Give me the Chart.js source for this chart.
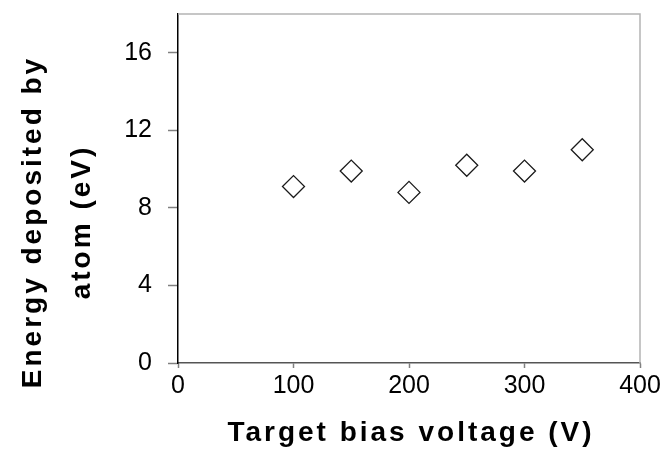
<!DOCTYPE html>
<html>
<head>
<meta charset="utf-8">
<script src="https://cdn.jsdelivr.net/npm/chart.js@4/dist/chart.umd.min.js"></script>
<style>
  body { margin: 0; background: #fff; }
</style>
</head>
<body>
<canvas id="myChart" width="668" height="475"></canvas>
<script>
const biasVoltage = [100, 150, 200, 250, 300, 350];
const energyPerAtom = [9.1, 9.9, 8.8, 10.2, 9.9, 11.0];
const xTicks = [0, 100, 200, 300, 400];
const yTicks = [0, 4, 8, 12, 16];
const xTitle = "Target bias voltage (V)";
const yTitle = ["Energy deposited by", "atom (eV)"];

const ctx = document.getElementById("myChart");
const font = "'Liberation Sans', Arial, sans-serif";

// titles are drawn by hand (letter spaced, y title sits a bit low), plus the grey top/right frame
const extras = {
  id: "extras",
  afterDraw(chart) {
    const c = chart.ctx;
    const a = chart.chartArea;
    c.save();
    c.strokeStyle = "#b4b4b4";
    c.lineWidth = 1.5;
    c.beginPath();
    c.moveTo(a.left, a.top);
    c.lineTo(a.right, a.top);
    c.lineTo(a.right, a.bottom);
    c.stroke();

    c.fillStyle = "#000";
    c.font = "bold 28px " + font;
    c.letterSpacing = "3px";
    c.textAlign = "center";
    c.textBaseline = "middle";
    c.fillText(xTitle, (a.left + a.right) / 2 + 2, 433);
    c.translate(33, 222);
    c.rotate(-Math.PI / 2);
    c.fillText(yTitle[0], 0, 0);
    c.fillText(yTitle[1], 0, 49);
    c.restore();
  },
};

new Chart(ctx, {
  type: "scatter",
  data: {
    datasets: [
      {
        data: biasVoltage.map((v, i) => ({ x: v, y: energyPerAtom[i] })),
        pointStyle: "rectRot",
        pointRadius: 11,
        pointHoverRadius: 11,
        borderColor: "#1a1a1a",
        borderWidth: 1.3,
        backgroundColor: "#fff",
      },
    ],
  },
  options: {
    responsive: false,
    animation: false,
    events: [],
    layout: { padding: { left: 100, right: 28, top: 14, bottom: 0 } },
    plugins: {
      legend: { display: false },
      tooltip: { enabled: false },
    },
    scales: {
      x: {
        type: "linear",
        min: 0,
        max: 400,
        afterBuildTicks: (s) => { s.ticks = xTicks.map((v) => ({ value: v })); },
        afterFit: (s) => { s.height = 112; s.paddingLeft = 0; s.paddingRight = 0; },
        ticks: { color: "#000", font: { size: 25, family: font }, padding: 3, maxRotation: 0 },
        grid: { drawOnChartArea: false, tickLength: 5, color: "#808080", tickWidth: 1.5 },
        border: { color: "#555", width: 1.5 },
      },
      y: {
        min: 0,
        max: 18,
        afterBuildTicks: (s) => { s.ticks = yTicks.map((v) => ({ value: v })); },
        afterFit: (s) => { s.width = 78; s.paddingTop = 0; s.paddingBottom = 0; },
        ticks: { color: "#000", font: { size: 25, family: font }, padding: 16 },
        grid: { drawOnChartArea: false, tickLength: 10, color: "#808080", tickWidth: 1.5 },
        border: { color: "#000", width: 1.5 },
      },
    },
  },
  plugins: [extras],
});
</script>
</body>
</html>
